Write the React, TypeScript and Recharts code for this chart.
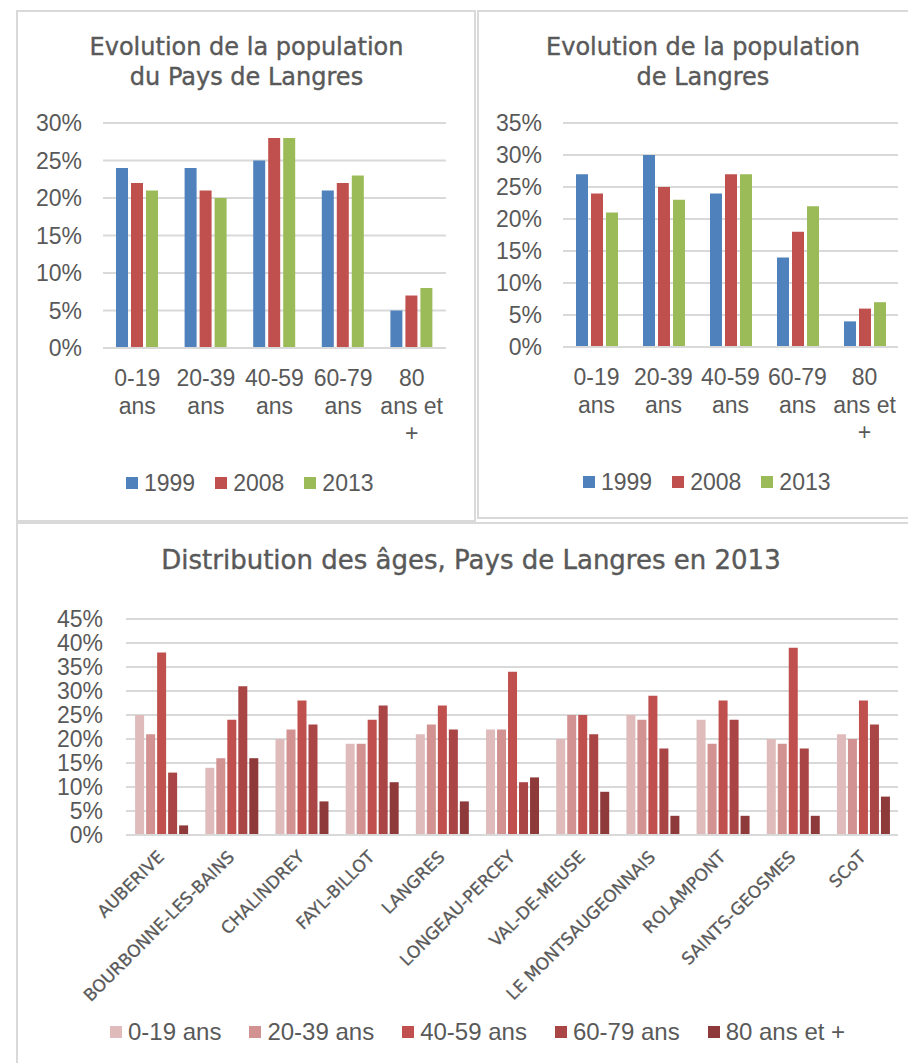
import React from "react";
import { Bar, BarChart, CartesianGrid, Legend, XAxis, YAxis } from "recharts";

const AGE_GROUPS = ["0-19 ans", "20-39 ans", "40-59 ans", "60-79 ans", "80 ans et +"];
// how the age labels wrap under the two top charts
const AGE_TICK_LINES = [["0-19", "ans"], ["20-39", "ans"], ["40-59", "ans"], ["60-79", "ans"], ["80", "ans et", "+"]];
const YEARS = ["1999", "2008", "2013"];

// Evolution de la population du Pays de Langres (%)
const pays1999 = [24, 24, 25, 21, 5];
const pays2008 = [22, 21, 28, 22, 7];
const pays2013 = [21, 20, 28, 23, 8];

// Evolution de la population de Langres (%)
const langres1999 = [27, 30, 24, 14, 4];
const langres2008 = [24, 25, 27, 18, 6];
const langres2013 = [21, 23, 27, 22, 7];

// Distribution des âges, Pays de Langres en 2013 (%)
const COMMUNES = [
  "AUBERIVE",
  "BOURBONNE-LES-BAINS",
  "CHALINDREY",
  "FAYL-BILLOT",
  "LANGRES",
  "LONGEAU-PERCEY",
  "VAL-DE-MEUSE",
  "LE MONTSAUGEONNAIS",
  "ROLAMPONT",
  "SAINTS-GEOSMES",
  "SCoT",
];
const age0to19 = [25, 14, 20, 19, 21, 22, 20, 25, 24, 20, 21];
const age20to39 = [21, 16, 22, 19, 23, 22, 25, 24, 19, 19, 20];
const age40to59 = [38, 24, 28, 24, 27, 34, 25, 29, 28, 39, 28];
const age60to79 = [13, 31, 23, 27, 22, 11, 21, 18, 24, 18, 23];
const age80plus = [2, 16, 7, 11, 7, 12, 9, 4, 4, 4, 8];

const TICKS_30 = [0, 5, 10, 15, 20, 25, 30];
const TICKS_35 = [0, 5, 10, 15, 20, 25, 30, 35];
const TICKS_45 = [0, 5, 10, 15, 20, 25, 30, 35, 40, 45];

const YEAR_COLORS = ["#4F81BD", "#C0504D", "#9BBB59"];
const AGE_COLORS = ["#DFBBBB", "#D39292", "#C0504D", "#A94545", "#8E3A3A"];
const TEXT = "#595959";
const GRID = "#D9D9D9";
const ARIAL = "'Liberation Sans', Arial, sans-serif";
const TITLE_FONT = "'DejaVu Sans', sans-serif";

const paysRows = AGE_GROUPS.map((age, i) => ({
  age,
  "1999": pays1999[i],
  "2008": pays2008[i],
  "2013": pays2013[i],
}));
const langresRows = AGE_GROUPS.map((age, i) => ({
  age,
  "1999": langres1999[i],
  "2008": langres2008[i],
  "2013": langres2013[i],
}));
const ageSeries = [age0to19, age20to39, age40to59, age60to79, age80plus];
const communeRows = COMMUNES.map((commune, i) => {
  const row: Record<string, string | number> = { commune };
  AGE_GROUPS.forEach((g, k) => (row[g] = ageSeries[k][i]));
  return row;
});

const pct = (v: number) => `${v}%`;
const tickStyle = { fontSize: 23, fill: TEXT, fontFamily: ARIAL };

function WrappedTick({ x, y, payload }: any) {
  const lines = AGE_TICK_LINES[AGE_GROUPS.indexOf(payload.value)] || [payload.value];
  return (
    <text x={x} y={y} textAnchor="middle" fill={TEXT} fontSize={23} fontFamily={ARIAL}>
      {lines.map((l: string, i: number) => (
        <tspan key={i} x={x} dy={i === 0 ? 17 : 27.5}>
          {l}
        </tspan>
      ))}
    </text>
  );
}

function SlantTick({ x, y, payload }: any) {
  return (
    <g transform={`translate(${x + 4},${y + 23})`}>
      <text
        textAnchor="end"
        transform="rotate(-45)"
        fill={TEXT}
        stroke={TEXT}
        strokeWidth={0.3}
        fontSize={17}
        fontFamily={TITLE_FONT}
      >
        {payload.value}
      </text>
    </g>
  );
}

function LegendRow({ payload, gap, size }: any) {
  return (
    <div style={{ display: "flex", alignItems: "center", whiteSpace: "nowrap" }}>
      {(payload || []).map((p: any, i: number) => (
        <div
          key={p.value}
          style={{ display: "flex", alignItems: "center", marginLeft: i === 0 ? 0 : gap }}
        >
          <span style={{ width: 12, height: 12, background: p.color, marginRight: 6 }} />
          <span style={{ fontSize: size, fontFamily: ARIAL, color: TEXT, lineHeight: "26px" }}>
            {p.value}
          </span>
        </div>
      ))}
    </div>
  );
}

function Title({
  left,
  top,
  width,
  size,
  lines,
}: {
  left: number;
  top: number;
  width: number;
  size: number;
  lines: string[];
}) {
  return (
    <div
      style={{
        position: "absolute",
        left,
        top,
        width,
        textAlign: "center",
        fontFamily: TITLE_FONT,
        fontSize: size,
        lineHeight: "30px",
        color: TEXT,
        WebkitTextStroke: `0.4px ${TEXT}`,
      }}
    >
      {lines.map((l) => (
        <div key={l}>{l}</div>
      ))}
    </div>
  );
}

function Frame({ left, top, width, height }: { left: number; top: number; width: number; height: number }) {
  return (
    <div
      style={{
        position: "absolute",
        left,
        top,
        width,
        height,
        border: `2px solid ${GRID}`,
        boxSizing: "border-box",
      }}
    />
  );
}

function EvolutionChart({
  rows,
  ticks,
  width,
  height,
  yWidth,
  right,
  bottom,
  legendLeft,
  legendTop,
}: any) {
  return (
    <BarChart
      width={width}
      height={height}
      data={rows}
      margin={{ top: 112, right, bottom, left: 0 }}
      barSize={12}
      barGap={3}
    >
      <CartesianGrid vertical={false} stroke={GRID} strokeWidth={2} />
      <XAxis
        dataKey="age"
        tick={<WrappedTick />}
        tickLine={false}
        axisLine={{ stroke: GRID, strokeWidth: 2 }}
        tickSize={0}
        tickMargin={21}
        height={100}
        interval={0}
      />
      <YAxis
        domain={[0, ticks[ticks.length - 1]]}
        ticks={ticks}
        tickFormatter={pct}
        tick={tickStyle}
        tickLine={false}
        axisLine={false}
        tickSize={0}
        tickMargin={21}
        width={yWidth}
        interval={0}
      />
      {YEARS.map((yr, i) => (
        <Bar key={yr} dataKey={yr} fill={YEAR_COLORS[i]} isAnimationActive={false} />
      ))}
      <Legend
        layout="horizontal"
        verticalAlign="middle"
        align="center"
        wrapperStyle={{ left: legendLeft, top: legendTop, width: "auto" }}
        content={(p: any) => <LegendRow {...p} gap={20} size={23} />}
      />
    </BarChart>
  );
}

export default function App() {
  return (
    <div
      style={{
        position: "absolute",
        left: 0,
        top: 0,
        width: 908,
        height: 1063,
        background: "#fff",
        overflow: "hidden",
      }}
    >
      <Frame left={16} top={10} width={460} height={512} />
      <Frame left={477} top={10} width={440} height={509} />
      <Frame left={16} top={522} width={900} height={560} />

      <Title left={17} top={32} width={459} size={24} lines={["Evolution de la population", "du Pays de Langres"]} />
      <Title left={478} top={32} width={450} size={24} lines={["Evolution de la population", "de Langres"]} />
      <Title left={17} top={545} width={908} size={26} lines={["Distribution des âges, Pays de Langres en 2013"]} />

      <div style={{ position: "absolute", left: 17, top: 11 }}>
        <EvolutionChart
          rows={paysRows}
          ticks={TICKS_30}
          width={459}
          height={510}
          yWidth={86}
          right={30}
          bottom={73}
          legendLeft={109}
          legendTop={459}
        />
      </div>
      <div style={{ position: "absolute", left: 478, top: 11 }}>
        <EvolutionChart
          rows={langresRows}
          ticks={TICKS_35}
          width={430}
          height={507}
          yWidth={85}
          right={10}
          bottom={71}
          legendLeft={105}
          legendTop={458}
        />
      </div>
      <div style={{ position: "absolute", left: 17, top: 523 }}>
        <BarChart
          width={891}
          height={540}
          data={communeRows}
          margin={{ top: 96, right: 10, bottom: 48, left: 0 }}
          barCategoryGap="13%"
          barGap={2}
        >
          <CartesianGrid vertical={false} stroke={GRID} strokeWidth={2} />
          <XAxis
            dataKey="commune"
            tick={<SlantTick />}
            tickLine={false}
            axisLine={{ stroke: GRID, strokeWidth: 2 }}
            tickSize={0}
            tickMargin={0}
            height={180}
            interval={0}
          />
          <YAxis
            domain={[0, 45]}
            ticks={TICKS_45}
            tickFormatter={pct}
            tick={tickStyle}
            tickLine={false}
            axisLine={false}
            tickSize={0}
            tickMargin={23}
            width={109}
            interval={0}
          />
          {AGE_GROUPS.map((g, i) => (
            <Bar key={g} dataKey={g} fill={AGE_COLORS[i]} isAnimationActive={false} />
          ))}
          <Legend
            layout="horizontal"
            verticalAlign="middle"
            align="center"
            wrapperStyle={{ left: 93, top: 496, width: "auto" }}
            content={(p: any) => <LegendRow {...p} gap={28} size={24} />}
          />
        </BarChart>
      </div>
    </div>
  );
}
